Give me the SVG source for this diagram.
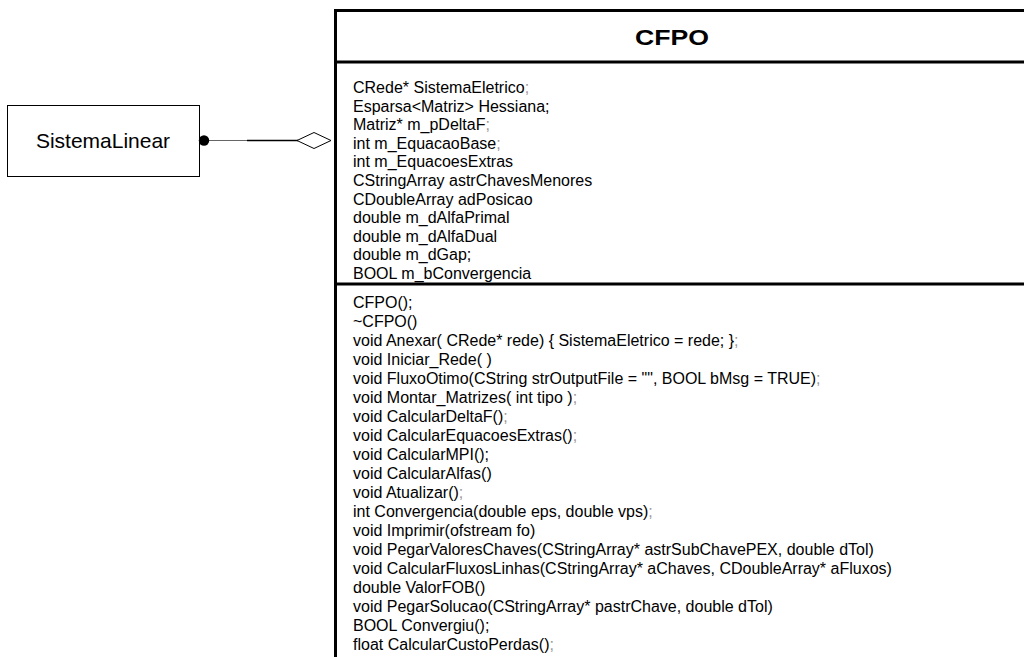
<svg xmlns="http://www.w3.org/2000/svg" width="1024" height="657" viewBox="0 0 1024 657">
  <style>
    .member { font-family: "Liberation Sans", Arial, sans-serif; font-size: 16px; fill: #000; }
    .cut { fill: #9a9a9a; }
    .title { font-family: "Liberation Sans", Arial, sans-serif; font-size: 22px; font-weight: bold; fill: #000; }
    .name { font-family: "Liberation Sans", Arial, sans-serif; font-size: 21px; fill: #000; }
    .frame { fill: none; stroke: #000; stroke-width: 3; }
  </style>
  <rect width="1024" height="657" fill="#fff"/>

  <!-- associated class -->
  <g id="SistemaLinear">
    <rect x="7.5" y="105.5" width="192" height="71" fill="#fff" stroke="#000" stroke-width="1"/>
    <text class="name" x="103" y="148" text-anchor="middle">SistemaLinear</text>
  </g>

  <!-- aggregation link -->
  <g id="connectors">
    <line x1="204" y1="140.5" x2="247" y2="140.5" stroke="#666" stroke-width="1"/>
    <line x1="247" y1="140.5" x2="298" y2="140.5" stroke="#000" stroke-width="1.6"/>
    <circle cx="204" cy="140.5" r="5.2" fill="#000"/>
    <polygon points="297,140.5 314,132.5 331,140.5 314,148.5" fill="#fff" stroke="#000" stroke-width="1"/>
  </g>

  <!-- main class -->
  <g id="CFPO">
    <path class="frame" d="M1024,10.5 H335.5 V657"/>
    <line class="frame" x1="335" y1="62" x2="1024" y2="62"/>
    <line class="frame" x1="335" y1="284" x2="1024" y2="284"/>
    <text class="title" x="672" y="45" text-anchor="middle" textLength="74" lengthAdjust="spacingAndGlyphs">CFPO</text>

    <g id="CFPO-attributes" class="member">
      <text x="353" y="93">CRede* SistemaEletrico<tspan class="cut">;</tspan></text>
      <text x="353" y="111.6">Esparsa&lt;Matriz&gt; Hessiana;</text>
      <text x="353" y="130.2">Matriz* m_pDeltaF<tspan class="cut">;</tspan></text>
      <text x="353" y="148.8">int m_EquacaoBase<tspan class="cut">;</tspan></text>
      <text x="353" y="167.4">int m_EquacoesExtras</text>
      <text x="353" y="186">CStringArray astrChavesMenores</text>
      <text x="353" y="204.6">CDoubleArray adPosicao</text>
      <text x="353" y="223.2">double m_dAlfaPrimal</text>
      <text x="353" y="241.8">double m_dAlfaDual</text>
      <text x="353" y="260.4">double m_dGap;</text>
      <text x="353" y="279">BOOL m_bConvergencia</text>
    </g>

    <g id="CFPO-methods" class="member">
      <text x="353" y="308">CFPO();</text>
      <text x="353" y="327">~CFPO()</text>
      <text x="353" y="346">void Anexar( CRede* rede) { SistemaEletrico = rede; }<tspan class="cut">;</tspan></text>
      <text x="353" y="365">void Iniciar_Rede( )</text>
      <text x="353" y="384">void FluxoOtimo(CString strOutputFile = "", BOOL bMsg = TRUE)<tspan class="cut">;</tspan></text>
      <text x="353" y="403">void Montar_Matrizes( int tipo )<tspan class="cut">;</tspan></text>
      <text x="353" y="422">void CalcularDeltaF()<tspan class="cut">;</tspan></text>
      <text x="353" y="441">void CalcularEquacoesExtras()<tspan class="cut">;</tspan></text>
      <text x="353" y="460">void CalcularMPI();</text>
      <text x="353" y="479">void CalcularAlfas()</text>
      <text x="353" y="498">void Atualizar()<tspan class="cut">;</tspan></text>
      <text x="353" y="517">int Convergencia(double eps, double vps)<tspan class="cut">;</tspan></text>
      <text x="353" y="536">void Imprimir(ofstream fo)</text>
      <text x="353" y="555">void PegarValoresChaves(CStringArray* astrSubChavePEX, double dTol)</text>
      <text x="353" y="574">void CalcularFluxosLinhas(CStringArray* aChaves, CDoubleArray* aFluxos)</text>
      <text x="353" y="593">double ValorFOB()</text>
      <text x="353" y="612">void PegarSolucao(CStringArray* pastrChave, double dTol)</text>
      <text x="353" y="631">BOOL Convergiu();</text>
      <text x="353" y="650">float CalcularCustoPerdas()<tspan class="cut">;</tspan></text>
    </g>
  </g>
</svg>
